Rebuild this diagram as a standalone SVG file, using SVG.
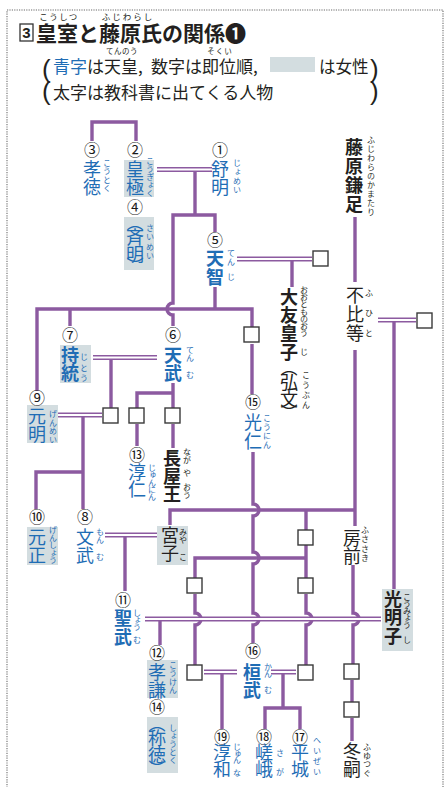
<svg xmlns="http://www.w3.org/2000/svg" width="446" height="787" viewBox="0 0 446 787">
<style>
.t{font-family:"Noto Sans CJK JP","Noto Sans CJK SC",sans-serif;fill:#231f20}
.n{font-family:"Noto Sans CJK JP","Noto Sans CJK SC",sans-serif;font-size:18px;writing-mode:vertical-rl;text-orientation:upright}
.p{font-family:"Noto Sans CJK JP","Noto Sans CJK SC",sans-serif;font-size:17px;text-anchor:middle}
.r{font-family:"Noto Sans CJK JP","Noto Sans CJK SC",sans-serif;font-size:8px;writing-mode:vertical-rl;text-orientation:upright}
.c{font-family:"Noto Sans CJK JP","Noto Sans CJK SC",sans-serif;font-size:16px;writing-mode:vertical-rl;text-orientation:upright;fill:#1a1a1a}
.bl{fill:#1f6db5}
.k{fill:#231f20}
.bo{font-weight:700}
.g{fill:#d3dde0}
.ln{stroke:#8c5aa0;stroke-width:3.4;fill:none;stroke-linejoin:miter}
.dA{stroke:#8c5aa0;stroke-width:5;fill:none}
.dB{stroke:#ffffff;stroke-width:1.8;fill:none}
.bx{fill:#fff;stroke:#3a3a3a;stroke-width:1.4}
</style>
<rect x="7" y="10" width="436" height="800" fill="#fff" stroke="#9a9a9a" stroke-width="1.6" stroke-dasharray="1.2 1.2"/>
<g id="title">
<rect x="20" y="24" width="13" height="17" fill="#fff" stroke="#333" stroke-width="1.3"/>
<text x="26.5" y="38" font-family="Liberation Sans,sans-serif" font-size="15" font-weight="700" text-anchor="middle" fill="#231f20">3</text>
<text class="t" x="36" y="40.5" font-size="21" font-weight="700">皇室と藤原氏の関係❶</text>
<text class="t" x="59" y="20" font-size="8.5" letter-spacing="1.5" text-anchor="middle">こうしつ</text>
<text class="t" x="128" y="20" font-size="8.5" letter-spacing="2" text-anchor="middle">ふじわらし</text>
</g>
<g id="legend">
<text x="42" y="78" font-family="Liberation Sans,sans-serif" font-size="26" fill="#231f20">(</text>
<text x="42" y="100" font-family="Liberation Sans,sans-serif" font-size="26" fill="#231f20">(</text>
<text x="370" y="78" font-family="Liberation Sans,sans-serif" font-size="26" fill="#231f20">)</text>
<text x="370" y="100" font-family="Liberation Sans,sans-serif" font-size="26" fill="#231f20">)</text>
<text class="t" x="53" y="73" font-size="17"><tspan fill="#1f6db5">青字</tspan>は天皇,</text>
<text class="t" x="151" y="73" font-size="17">数字は即位順,</text>
<rect class="g" x="270" y="57" width="45" height="15"/>
<text class="t" x="319" y="73" font-size="16.5">は女性</text>
<text class="t" x="53" y="99" font-size="17">太字は教科書に出てくる人物</text>
<text class="t" x="122" y="54" font-size="7.5" letter-spacing="0.5" text-anchor="middle">てんのう</text>
<text class="t" x="220" y="54" font-size="7.5" letter-spacing="1" text-anchor="middle">そくい</text>
</g>
<g id="connectors">
<path class="ln" d="M92,141 V122 H136 V141"/>
<path class="ln" d="M195,171 V215"/>
<path class="ln" d="M215,232 V215 H173 V303 A6,6 0 0 0 173,315 V326"/>
<path class="ln" d="M292,261 V287"/>
<path class="ln" d="M215,287 V309"/>
<path class="ln" d="M37,391 V309 H252 V327"/>
<path class="ln" d="M70,309 V326"/>
<path class="ln" d="M111,359 V408"/>
<path class="ln" d="M173,383 V408"/>
<path class="ln" d="M137,408 V393 H173"/>
<path class="ln" d="M83,417 V509"/>
<path class="ln" d="M36,509 V472 H83"/>
<path class="ln" d="M137,424 V446"/>
<path class="ln" d="M173,424 V448"/>
<path class="ln" d="M252,344 V394"/>
<path class="ln" d="M253,452 V504 A6,6 0 0 1 253,516 V552 A6,6 0 0 1 253,564 V613 A6,6 0 0 1 253,625 V643"/>
<path class="ln" d="M355,350 V526"/>
<path class="ln" d="M170,525 V510 H355"/>
<path class="ln" d="M306,510 V530"/>
<path class="ln" d="M306,545 V578"/>
<path class="ln" d="M195,578 V558 H306"/>
<path class="ln" d="M195,594 V613 A6,6 0 0 1 195,625 V665"/>
<path class="ln" d="M306,594 V613 A6,6 0 0 1 306,625 V665"/>
<path class="ln" d="M353,565 V613 A6,6 0 0 1 353,625 V664"/>
<path class="ln" d="M394,322 V590"/>
<path class="ln" d="M355,217 V282"/>
<path class="ln" d="M125,537 V591"/>
<path class="ln" d="M160,621 V645"/>
<path class="ln" d="M222,674 V729"/>
<path class="ln" d="M283,674 V708"/>
<path class="ln" d="M265,729 V708 H300 V729"/>
<path class="ln" d="M352,680 V702"/>
<path class="ln" d="M352,718 V741"/>
<g>
<path class="dA" d="M157,169.5 H212 M237,259 H312 M93,357.5 H157 M58,415 H102 M105,535 H157 M145,619 H381 M378,320 H416 M204,672 H237 M271,672 H296"/>
<path class="dB" d="M157,169.5 H212 M237,259 H312 M93,357.5 H157 M58,415 H102 M105,535 H157 M145,619 H381 M378,320 H416 M204,672 H237 M271,672 H296"/>
</g>
</g>
<g id="boxes">
<rect class="bx" x="313" y="251" width="15" height="15"/>
<rect class="bx" x="417" y="313" width="15" height="15"/>
<rect class="bx" x="244" y="327" width="15" height="15"/>
<rect class="bx" x="103" y="408" width="15" height="15"/>
<rect class="bx" x="129" y="408" width="15" height="15"/>
<rect class="bx" x="165" y="408" width="15" height="15"/>
<rect class="bx" x="298" y="530" width="15" height="15"/>
<rect class="bx" x="298" y="578" width="15" height="15"/>
<rect class="bx" x="187" y="578" width="15" height="15"/>
<rect class="bx" x="187" y="665" width="15" height="15"/>
<rect class="bx" x="298" y="665" width="15" height="15"/>
<rect class="bx" x="344" y="664" width="15" height="15"/>
<rect class="bx" x="344" y="702" width="15" height="15"/>
</g>
<g id="kotoku"><text class="c" x="92" y="142">③</text>
<text class="n bl" x="92" y="160">孝徳</text>
<text class="r bl" x="107" y="159" letter-spacing="0.3">こうとく</text></g>
<g id="kogyoku"><rect class="g" x="124" y="160" width="30" height="37"/><text class="c" x="135" y="142">②</text>
<text class="n bl" x="135" y="160">皇極</text>
<text class="r bl" x="150" y="157">こうぎょく</text></g>
<g id="saimei"><rect class="g" x="124" y="217" width="30" height="53"/><text class="c" x="135" y="199">④</text>
<text class="p bl" x="135" y="229">︵</text>
<text class="n bl" x="135" y="228.5" font-size="17" letter-spacing="-1">斉明</text>
<text class="p bl" x="135" y="272">︶</text>
<text class="r bl" x="150" y="224" letter-spacing="1.3">さいめい</text></g>
<g id="jomei"><text class="c" x="220" y="142">①</text>
<text class="n bl" x="220" y="160">舒明</text>
<text class="r bl" x="237" y="159" letter-spacing="1">じょめい</text></g>
<g id="tenji"><text class="c" x="215" y="232">⑤</text>
<text class="n bl bo" x="215" y="249" letter-spacing="1">天智</text>
<text class="r bl" x="231" y="249" letter-spacing="1">てん</text>
<text class="r bl" x="231" y="273">じ</text></g>
<g id="otomo">
<text class="n k bo" x="289" y="288" letter-spacing="0.3">大友皇子</text>
<text class="p k" x="289" y="374">︵</text>
<text class="n k" x="289" y="373.5" font-size="17" letter-spacing="-1">弘文</text>
<text class="p k" x="289" y="419">︶</text>
<text class="r k" x="304" y="286" letter-spacing="-0.8">おおとものおう</text>
<text class="r k" x="304" y="348">じ</text>
<text class="r k" x="306" y="371" letter-spacing="2">こうぶん</text></g>
<g id="kamatari">
<text class="n k bo" x="354" y="138" letter-spacing="1">藤原鎌足</text>
<text class="r k" x="371" y="136" letter-spacing="1">ふじわらのかまたり</text></g>
<g id="fuhito">
<text class="n k" x="355" y="286" letter-spacing="1">不比等</text>
<text class="r k" x="369" y="289" letter-spacing="12">ふひと</text></g>
<g id="jito"><rect class="g" x="60" y="345" width="31" height="38"/><text class="c" x="70" y="327">⑦</text>
<text class="n bl bo" x="70" y="346">持統</text>
<text class="r bl" x="84" y="353" letter-spacing="2.5">じとう</text></g>
<g id="tenmu"><text class="c" x="173" y="327">⑥</text>
<text class="n bl bo" x="173" y="346">天武</text>
<text class="r bl" x="190" y="346">てん</text>
<text class="r bl" x="190" y="371">む</text></g>
<g id="genmei"><rect class="g" x="27" y="405" width="31" height="38"/><text class="c" x="37" y="390">⑨</text>
<text class="n bl" x="37" y="407">元明</text>
<text class="r bl" x="53" y="410" letter-spacing="0.7">げんめい</text></g>
<g id="junnin"><text class="c" x="137" y="447">⑬</text>
<text class="n bl" x="137" y="463" letter-spacing="-1">淳仁</text>
<text class="r bl" x="152" y="464" letter-spacing="-0.75">じゅんにん</text></g>
<g id="nagaya">
<text class="n k bo" x="172" y="449">長屋王</text>
<text class="r k" x="187" y="448">なが</text>
<text class="r k" x="187" y="469">や</text>
<text class="r k" x="187" y="483">おう</text></g>
<g id="konin"><text class="c" x="253" y="394">⑮</text>
<text class="n bl" x="253" y="413" letter-spacing="1">光仁</text>
<text class="r bl" x="267" y="414" letter-spacing="1">こうにん</text></g>
<g id="gensho"><rect class="g" x="27" y="527" width="31" height="38"/><text class="c" x="37" y="509">⑩</text>
<text class="n bl" x="37" y="528">元正</text>
<text class="r bl" x="53" y="526" letter-spacing="-0.5">げんしょう</text></g>
<g id="monmu"><text class="c" x="85" y="509">⑧</text>
<text class="n bl" x="85" y="528">文武</text>
<text class="r bl" x="100" y="528">もん</text>
<text class="r bl" x="100" y="553">む</text></g>
<g id="miyako"><rect class="g" x="157" y="526" width="31" height="39"/>
<text class="n k" x="170" y="526">宮子</text>
<text class="r k" x="183" y="528">みや</text>
<text class="r k" x="183" y="553">こ</text></g>
<g id="fusasaki">
<text class="n k" x="352" y="529">房前</text>
<text class="r k" x="365" y="526" letter-spacing="1.3">ふささき</text></g>
<g id="komyoshi"><rect class="g" x="382" y="589" width="31" height="62"/>
<text class="n k bo" x="393" y="590" letter-spacing="0.5">光明子</text>
<text class="r k" x="407" y="593" letter-spacing="-1">こうみょう</text>
<text class="r k" x="407" y="636">し</text></g>
<g id="shomu"><text class="c" x="123" y="592">⑪</text>
<text class="n bl bo" x="123" y="609" letter-spacing="1">聖武</text>
<text class="r bl" x="137" y="609" letter-spacing="-1">しょう</text>
<text class="r bl" x="137" y="636">む</text></g>
<g id="koken"><rect class="g" x="147" y="660" width="31" height="38"/><text class="c" x="157" y="645">⑫</text>
<text class="n bl" x="157" y="663">孝謙</text>
<text class="r bl" x="173" y="661" letter-spacing="0.3">こうけん</text></g>
<g id="shotoku"><rect class="g" x="147" y="717" width="31" height="56"/><text class="c" x="157" y="699">⑭</text>
<text class="p bl" x="157" y="730">︵</text>
<text class="n bl" x="157" y="729.5" font-size="17" letter-spacing="-1">称徳</text>
<text class="p bl" x="157" y="775">︶</text>
<text class="r bl" x="173" y="724">しょうとく</text></g>
<g id="kanmu"><text class="c" x="253" y="643">⑯</text>
<text class="n bl bo" x="252" y="663">桓武</text>
<text class="r bl" x="268" y="663" letter-spacing="-1">かん</text>
<text class="r bl" x="268" y="686">む</text></g>
<g id="junna"><text class="c" x="222" y="729">⑲</text>
<text class="n bl" x="222" y="743" letter-spacing="-1">淳和</text>
<text class="r bl" x="237" y="743" letter-spacing="-1.5">じゅん</text>
<text class="r bl" x="237" y="769">な</text></g>
<g id="saga"><text class="c" x="264" y="729">⑱</text>
<text class="n bl" x="264" y="743" letter-spacing="-1">嵯峨</text>
<text class="r bl" x="280" y="749">さ</text>
<text class="r bl" x="280" y="768">が</text></g>
<g id="heizei"><text class="c" x="300" y="729">⑰</text>
<text class="n bl" x="300" y="743" letter-spacing="-1">平城</text>
<text class="r bl" x="317" y="736" letter-spacing="2.7">へいぜい</text></g>
<g id="fuyutsugu">
<text class="n k" x="352" y="742">冬嗣</text>
<text class="r k" x="367" y="743" letter-spacing="0.7">ふゆつぐ</text></g>
</svg>
